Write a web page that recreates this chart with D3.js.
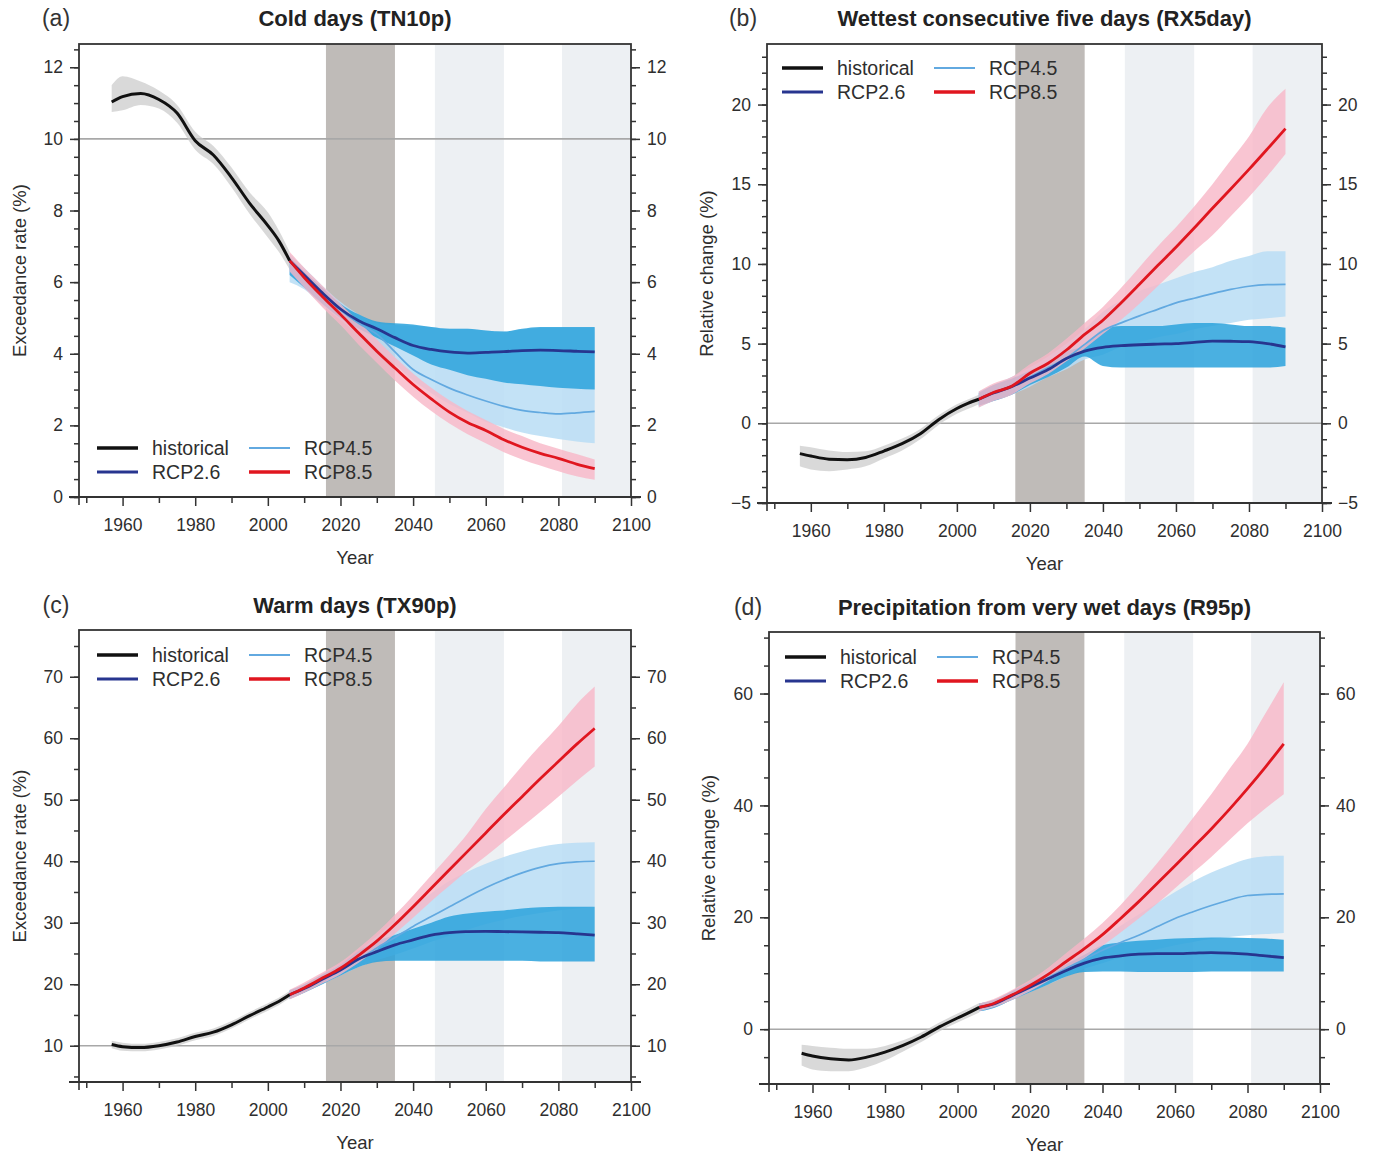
<!DOCTYPE html>
<html><head><meta charset="utf-8">
<script src="https://cdn.jsdelivr.net/npm/d3@7"></script>
<style>
body{margin:0;background:#fff;}
svg{display:block;font-family:"Liberation Sans",Arial,Helvetica,sans-serif;}
</style>
</head><body>
<svg id="chart" width="1386" height="1162"></svg>
<script>
// ---------------- DATA ----------------
const yearsHist = [1957,1960,1965,1970,1975,1980,1985,1990,1995,2000,2003,2006];
const yearsProj = [2006,2010,2015,2020,2025,2030,2035,2040,2045,2050,2055,2060,2065,2070,2075,2080,2085,2090];
const xTicks = [1960,1980,2000,2020,2040,2060,2080,2100];
const xMinor = [1950,1970,1990,2010,2030,2050,2070,2090];
const periodDark = [[2016,2035]];
const periodLight = [[2046,2065],[2081,2100]];
const legendLabels = ["historical","RCP2.6","RCP4.5","RCP8.5"];

// (a) Cold days TN10p
const aHist   = [11.03,11.18,11.27,11.1,10.72,9.95,9.55,8.92,8.2,7.58,7.16,6.6];
const aHistLo = [10.75,10.8,10.95,10.85,10.45,9.7,9.3,8.65,7.9,7.25,6.85,6.35];
const aHistHi = [11.5,11.75,11.6,11.35,10.95,10.2,9.8,9.2,8.5,7.95,7.45,6.85];
const aR26    = [6.6,6.2,5.7,5.25,4.92,4.7,4.45,4.23,4.12,4.05,4.02,4.04,4.06,4.09,4.1,4.09,4.07,4.05];
const aR26Lo  = [6.2,5.85,5.4,5.0,4.7,4.45,4.2,3.95,3.7,3.55,3.4,3.3,3.2,3.15,3.1,3.05,3.02,3.0];
const aR26Hi  = [6.7,6.3,5.85,5.4,5.1,4.9,4.85,4.82,4.75,4.7,4.7,4.65,4.62,4.7,4.75,4.75,4.75,4.75];
const aR45    = [6.6,6.18,5.68,5.22,4.85,4.55,4.05,3.56,3.28,3.04,2.85,2.68,2.53,2.42,2.36,2.32,2.35,2.39];
const aR45Lo  = [6.0,5.8,5.35,4.95,4.55,4.15,3.7,3.25,2.9,2.6,2.35,2.1,1.95,1.8,1.7,1.62,1.55,1.5];
const aR45Hi  = [6.8,6.4,5.9,5.45,5.1,4.85,4.8,4.78,4.75,4.7,4.7,4.65,4.62,4.68,4.72,4.72,4.72,4.72];
const aR85    = [6.6,6.13,5.6,5.1,4.58,4.07,3.6,3.14,2.74,2.37,2.08,1.86,1.6,1.39,1.22,1.08,0.92,0.79];
const aR85Lo  = [6.3,5.85,5.3,4.8,4.25,3.75,3.25,2.8,2.4,2.05,1.75,1.5,1.25,1.05,0.88,0.72,0.58,0.48];
const aR85Hi  = [6.85,6.4,5.9,5.4,4.9,4.4,3.9,3.45,3.05,2.7,2.4,2.15,1.9,1.7,1.5,1.35,1.2,1.05];

// (b) Wettest consecutive five days RX5day
const bHist   = [-1.9,-2.05,-2.25,-2.28,-2.14,-1.74,-1.28,-0.65,0.23,0.93,1.25,1.51];
const bHistLo = [-2.7,-2.9,-3.0,-2.9,-2.7,-2.2,-1.7,-1.0,-0.1,0.6,0.9,1.2];
const bHistHi = [-1.4,-1.5,-1.7,-1.8,-1.75,-1.4,-0.95,-0.35,0.5,1.2,1.5,1.8];
const bR26    = [1.51,1.9,2.3,2.84,3.37,4.07,4.53,4.77,4.87,4.93,4.97,5.0,5.08,5.16,5.15,5.12,5.0,4.8];
const bR26Lo  = [1.1,1.4,1.8,2.4,2.9,3.5,4.2,3.6,3.5,3.5,3.5,3.5,3.5,3.5,3.5,3.5,3.5,3.6];
const bR26Hi  = [1.9,2.4,2.8,3.3,3.8,4.5,4.9,5.9,6.1,6.1,6.1,6.2,6.3,6.3,6.2,6.1,6.1,6.0];
const bR45    = [1.51,1.9,2.3,2.9,3.5,4.1,4.95,5.81,6.3,6.74,7.15,7.56,7.85,8.14,8.4,8.6,8.7,8.72];
const bR45Lo  = [1.0,1.4,1.8,2.3,2.9,3.4,4.0,4.3,4.8,5.1,5.4,5.6,5.9,6.1,6.3,6.5,6.6,6.7];
const bR45Hi  = [2.0,2.4,2.9,3.5,4.2,5.0,5.9,7.0,7.7,8.3,8.7,9.1,9.5,9.8,10.2,10.5,10.8,10.8];
const bR85    = [1.51,1.93,2.33,3.14,3.77,4.6,5.58,6.47,7.56,8.72,9.9,11.05,12.25,13.49,14.7,15.93,17.2,18.49];
const bR85Lo  = [1.0,1.4,1.8,2.5,3.1,3.9,4.7,5.6,6.5,7.5,8.6,9.7,10.8,11.8,13.0,14.2,15.5,16.9];
const bR85Hi  = [2.0,2.5,2.9,3.7,4.4,5.3,6.3,7.3,8.5,9.8,11.1,12.3,13.6,15.0,16.5,18.0,19.8,21.0];

// (c) Warm days TX90p
const cHist   = [10.2,9.85,9.7,10.0,10.6,11.5,12.2,13.4,14.9,16.3,17.2,18.3];
const cHistLo = [9.6,9.2,9.1,9.4,10.0,10.9,11.6,12.8,14.3,15.7,16.6,17.7];
const cHistHi = [10.8,10.5,10.3,10.6,11.2,12.1,12.8,14.0,15.5,16.9,17.8,18.9];
const cR26    = [18.3,19.3,20.8,22.3,24.1,25.3,26.4,27.2,28.0,28.4,28.55,28.6,28.55,28.5,28.45,28.4,28.2,28.0];
const cR26Lo  = [17.6,18.6,20.0,21.4,22.8,23.6,23.8,23.8,23.8,23.8,23.8,23.8,23.8,23.8,23.7,23.7,23.7,23.7];
const cR26Hi  = [19.0,20.0,21.6,23.2,25.4,27.0,28.0,29.0,30.0,31.0,31.5,31.8,32.0,32.3,32.5,32.6,32.6,32.6];
const cR45    = [18.3,19.3,20.8,22.3,24.0,25.9,27.6,29.4,31.0,32.6,34.2,35.7,37.0,38.1,39.0,39.6,39.9,40.0];
const cR45Lo  = [17.6,18.6,20.0,21.4,22.8,23.9,24.8,25.8,26.9,27.9,28.9,29.8,30.5,31.1,31.6,32.0,32.3,32.6];
const cR45Hi  = [19.0,20.0,21.7,23.3,25.3,27.8,30.2,32.6,34.8,36.8,38.3,39.6,40.7,41.6,42.3,42.8,43.0,43.1];
const cR85    = [18.3,19.4,21.0,22.6,24.7,27.0,29.7,32.6,35.6,38.6,41.6,44.6,47.6,50.5,53.4,56.2,59.0,61.6];
const cR85Lo  = [17.5,18.6,20.1,21.6,23.5,25.7,28.2,30.8,33.5,36.0,38.5,40.8,43.2,45.6,48.0,50.5,53.0,55.4];
const cR85Hi  = [19.1,20.3,21.9,23.6,25.9,28.4,31.3,34.4,37.7,41.0,44.5,48.5,52.0,55.5,58.8,62.0,65.5,68.4];

// (d) Precipitation from very wet days R95p
const dHist   = [-4.3,-4.8,-5.3,-5.5,-5.0,-4.1,-2.9,-1.4,0.4,2.0,2.9,3.9];
const dHistLo = [-6.5,-7.2,-7.5,-7.5,-6.8,-5.6,-4.0,-2.3,-0.4,1.2,2.1,3.0];
const dHistHi = [-2.8,-3.0,-3.3,-3.5,-3.5,-3.0,-2.0,-0.6,1.2,2.8,3.7,4.7];
const dR26    = [3.9,4.5,6.0,7.5,9.0,10.5,11.8,12.7,13.1,13.4,13.5,13.5,13.6,13.7,13.6,13.4,13.1,12.8];
const dR26Lo  = [3.2,3.8,5.2,6.6,8.0,9.4,10.2,10.3,10.3,10.2,10.2,10.2,10.2,10.3,10.3,10.3,10.3,10.3];
const dR26Hi  = [4.6,5.2,6.8,8.4,10.0,11.6,13.3,15.0,15.5,15.8,16.0,16.2,16.3,16.4,16.4,16.3,16.2,16.0];
const dR45    = [3.9,4.5,6.0,7.5,9.2,10.9,12.5,14.1,15.5,16.8,18.3,19.8,21.0,22.1,23.1,23.9,24.1,24.2];
const dR45Lo  = [3.2,3.8,5.2,6.6,8.0,9.4,10.8,11.8,12.8,13.6,14.3,15.0,15.6,16.1,16.5,16.8,17.0,17.2];
const dR45Hi  = [4.6,5.2,6.8,8.4,10.3,12.3,14.3,16.4,18.5,20.5,22.5,24.5,26.4,28.0,29.3,30.4,30.9,31.0];
const dR85    = [3.9,4.6,6.1,7.8,9.8,12.1,14.4,16.9,19.8,22.8,26.0,29.2,32.5,35.8,39.3,43.0,46.9,51.0];
const dR85Lo  = [3.2,3.9,5.2,6.8,8.6,10.6,12.7,14.9,17.3,19.8,22.4,25.2,28.0,30.8,33.8,36.8,39.5,42.0];
const dR85Hi  = [4.6,5.4,7.0,8.8,11.0,13.6,16.2,19.0,22.2,25.8,29.6,33.6,37.8,42.0,46.5,51.0,56.5,62.0];

const aYTicks = [0,2,4,6,8,10,12];
const bYTicks = [-5,0,5,10,15,20];
const cYTicks = [10,20,30,40,50,60,70];
const dYTicks = [0,20,40,60];

// ---------------- STYLE / LAYOUT ----------------
const COL = {
  hist:"#111111", r26:"#27358f", r45:"#62a9e0", r85:"#e0161f",
  histBand:"#c9c9c9", r26Band:"#2aa2dc", r45Band:"#b9ddf4", r85Band:"#f7b6c7",
  dark:"#bfbbb8", light:"#edf0f3", ref:"#a8a8a8", axis:"#333", text:"#2e2e2e"
};
const FS = {tick:17.5, title:22, letter:23, axisTitle:18.5, legend:19.5};

const panels = [
  {letter:"(a)", title:"Cold days (TN10p)", ylabel:"Exceedance rate (%)",
   box:{l:79,r:631,t:44,b:497}, ydom:[0,12.65], yTicks:aYTicks, yMinor:0.5, ref:10,
   s:{hist:[aHist,aHistLo,aHistHi], r26:[aR26,aR26Lo,aR26Hi], r45:[aR45,aR45Lo,aR45Hi], r85:[aR85,aR85Lo,aR85Hi]},
   leg:{x:97,y:448}, letterPos:{x:56,y:18}, ylabX:20},
  {letter:"(b)", title:"Wettest consecutive five days (RX5day)", ylabel:"Relative change (%)",
   box:{l:767,r:1322,t:44,b:503}, ydom:[-5,23.8], yTicks:bYTicks, yMinor:1, ref:0,
   s:{hist:[bHist,bHistLo,bHistHi], r26:[bR26,bR26Lo,bR26Hi], r45:[bR45,bR45Lo,bR45Hi], r85:[bR85,bR85Lo,bR85Hi]},
   leg:{x:782,y:68}, letterPos:{x:743,y:18}, ylabX:707},
  {letter:"(c)", title:"Warm days (TX90p)", ylabel:"Exceedance rate (%)",
   box:{l:79,r:631,t:630,b:1082}, ydom:[4.1,77.6], yTicks:cYTicks, yMinor:5, ref:10,
   s:{hist:[cHist,cHistLo,cHistHi], r26:[cR26,cR26Lo,cR26Hi], r45:[cR45,cR45Lo,cR45Hi], r85:[cR85,cR85Lo,cR85Hi]},
   leg:{x:97,y:655}, letterPos:{x:56,y:605}, ylabX:20},
  {letter:"(d)", title:"Precipitation from very wet days (R95p)", ylabel:"Relative change (%)",
   box:{l:769,r:1320,t:632,b:1084}, ydom:[-9.8,71], yTicks:dYTicks, yMinor:5, ref:0,
   s:{hist:[dHist,dHistLo,dHistHi], r26:[dR26,dR26Lo,dR26Hi], r45:[dR45,dR45Lo,dR45Hi], r85:[dR85,dR85Lo,dR85Hi]},
   leg:{x:785,y:657}, letterPos:{x:748,y:607}, ylabX:709}
];

const svg = d3.select("#chart");
svg.append("rect").attr("width",1386).attr("height",1162).attr("fill","#fff");

panels.forEach((p,pi) => {
  const B = p.box;
  const x = d3.scaleLinear().domain([1948,2100]).range([B.l,B.r]);
  const y = d3.scaleLinear().domain(p.ydom).range([B.b,B.t]);
  const g = svg.append("g");
  const clipId = "clip"+pi;
  g.append("clipPath").attr("id",clipId).append("rect")
    .attr("x",B.l).attr("y",B.t).attr("width",B.r-B.l).attr("height",B.b-B.t);
  const plot = g.append("g").attr("clip-path",`url(#${clipId})`);

  // period shading
  plot.selectAll(".pl").data(periodLight).join("rect")
    .attr("x",d=>x(d[0])).attr("width",d=>x(d[1])-x(d[0]))
    .attr("y",B.t).attr("height",B.b-B.t).attr("fill",COL.light);
  plot.selectAll(".pd").data(periodDark).join("rect")
    .attr("x",d=>x(d[0])).attr("width",d=>x(d[1])-x(d[0]))
    .attr("y",B.t).attr("height",B.b-B.t).attr("fill",COL.dark);

  // reference line
  plot.append("line").attr("x1",B.l).attr("x2",B.r)
    .attr("y1",y(p.ref)).attr("y2",y(p.ref))
    .attr("stroke",COL.ref).attr("stroke-width",1.6);

  const area = (years, lo, hi) => d3.area()
    .x((d,i)=>x(years[i])).y0((d,i)=>y(lo[i])).y1((d,i)=>y(hi[i]))
    .curve(d3.curveMonotoneX)(years);
  const line = (years, v) => d3.line()
    .x((d,i)=>x(years[i])).y((d,i)=>y(v[i]))
    .curve(d3.curveMonotoneX)(years);

  // bands
  plot.append("path").attr("d",area(yearsHist,p.s.hist[1],p.s.hist[2])).attr("fill",COL.histBand).attr("opacity",0.7);
  plot.append("path").attr("d",area(yearsProj,p.s.r45[1],p.s.r45[2])).attr("fill",COL.r45Band).attr("opacity",0.85);
  plot.append("path").attr("d",area(yearsProj,p.s.r26[1],p.s.r26[2])).attr("fill",COL.r26Band).attr("opacity",0.85);
  plot.append("path").attr("d",area(yearsProj,p.s.r85[1],p.s.r85[2])).attr("fill",COL.r85Band).attr("opacity",0.8);

  // lines
  plot.append("path").attr("d",line(yearsProj,p.s.r45[0])).attr("fill","none").attr("stroke",COL.r45).attr("stroke-width",1.7);
  plot.append("path").attr("d",line(yearsProj,p.s.r26[0])).attr("fill","none").attr("stroke",COL.r26).attr("stroke-width",2.8);
  plot.append("path").attr("d",line(yearsProj,p.s.r85[0])).attr("fill","none").attr("stroke",COL.r85).attr("stroke-width",2.8);
  plot.append("path").attr("d",line(yearsHist,p.s.hist[0])).attr("fill","none").attr("stroke",COL.hist).attr("stroke-width",3);

  // frame
  g.append("rect").attr("x",B.l).attr("y",B.t).attr("width",B.r-B.l).attr("height",B.b-B.t)
    .attr("fill","none").attr("stroke",COL.axis).attr("stroke-width",1.8);

  const styleAxis = sel => {
    sel.select(".domain").remove();
    sel.selectAll("line").attr("stroke",COL.axis).attr("stroke-width",1.5);
    sel.selectAll("text").attr("fill",COL.text).style("font-size",FS.tick+"px")
      .style("font-family","'Liberation Sans',Arial,sans-serif");
  };

  const yMin = [];
  for (let v = Math.ceil(p.ydom[0]/p.yMinor)*p.yMinor; v <= p.ydom[1]+1e-9; v += p.yMinor) yMin.push(+v.toFixed(4));

  // minor ticks
  g.append("g").attr("transform",`translate(${B.l},0)`)
    .call(d3.axisLeft(y).tickValues(yMin).tickSize(5).tickFormat(""))
    .call(styleAxis);
  g.append("g").attr("transform",`translate(${B.r},0)`)
    .call(d3.axisRight(y).tickValues(yMin).tickSize(5).tickFormat(""))
    .call(styleAxis);
  g.append("g").attr("transform",`translate(0,${B.b})`)
    .call(d3.axisBottom(x).tickValues(xMinor).tickSize(6).tickFormat(""))
    .call(styleAxis);

  // major ticks
  g.append("g").attr("transform",`translate(${B.l},0)`)
    .call(d3.axisLeft(y).tickValues(p.yTicks).tickSize(9).tickPadding(7).tickFormat(d3.format("d")))
    .call(styleAxis);
  g.append("g").attr("transform",`translate(${B.r},0)`)
    .call(d3.axisRight(y).tickValues(p.yTicks).tickSize(9).tickPadding(7).tickFormat(d3.format("d")))
    .call(styleAxis);
  g.append("g").attr("transform",`translate(0,${B.b})`)
    .call(d3.axisBottom(x).tickValues(xTicks).tickSize(9).tickPadding(13).tickFormat(d3.format("d")))
    .call(styleAxis);

  // extend bottom axis line slightly past spines (like reference)
  g.append("line").attr("x1",B.l-10).attr("x2",B.r+10).attr("y1",B.b).attr("y2",B.b)
    .attr("stroke",COL.axis).attr("stroke-width",1.8);
  g.append("line").attr("x1",B.l).attr("x2",B.l).attr("y1",B.b).attr("y2",B.b+8)
    .attr("stroke",COL.axis).attr("stroke-width",1.6);

  // titles
  g.append("text").attr("x",(B.l+B.r)/2).attr("y",p.letterPos.y).attr("dy","0.35em")
    .attr("text-anchor","middle").attr("font-weight","bold").attr("font-size",FS.title)
    .attr("fill","#222").text(p.title);
  g.append("text").attr("x",p.letterPos.x).attr("y",p.letterPos.y).attr("dy","0.35em")
    .attr("text-anchor","middle").attr("font-size",FS.letter).attr("fill","#333").text(p.letter);
  g.append("text").attr("x",(B.l+B.r)/2).attr("y",B.b+61).attr("dy","0.35em")
    .attr("text-anchor","middle").attr("font-size",FS.axisTitle).attr("fill",COL.text).text("Year");
  g.append("text").attr("transform",`translate(${p.ylabX},${(B.t+B.b)/2}) rotate(-90)`)
    .attr("dy","0.35em").attr("text-anchor","middle").attr("font-size",FS.axisTitle)
    .attr("fill",COL.text).text(p.ylabel);

  // legend
  const legCols = [COL.hist, COL.r26, COL.r45, COL.r85];
  const legW = [3.5, 3, 2, 3.5];
  legendLabels.forEach((lab,i) => {
    const cx = p.leg.x + (i>=2 ? 152 : 0);
    const cy = p.leg.y + (i%2)*24;
    g.append("line").attr("x1",cx).attr("x2",cx+41).attr("y1",cy).attr("y2",cy)
      .attr("stroke",legCols[i]).attr("stroke-width",legW[i]);
    g.append("text").attr("x",cx+55).attr("y",cy).attr("dy","0.35em")
      .attr("font-size",FS.legend).attr("fill",COL.text).text(lab);
  });
});
</script>
</body></html>
